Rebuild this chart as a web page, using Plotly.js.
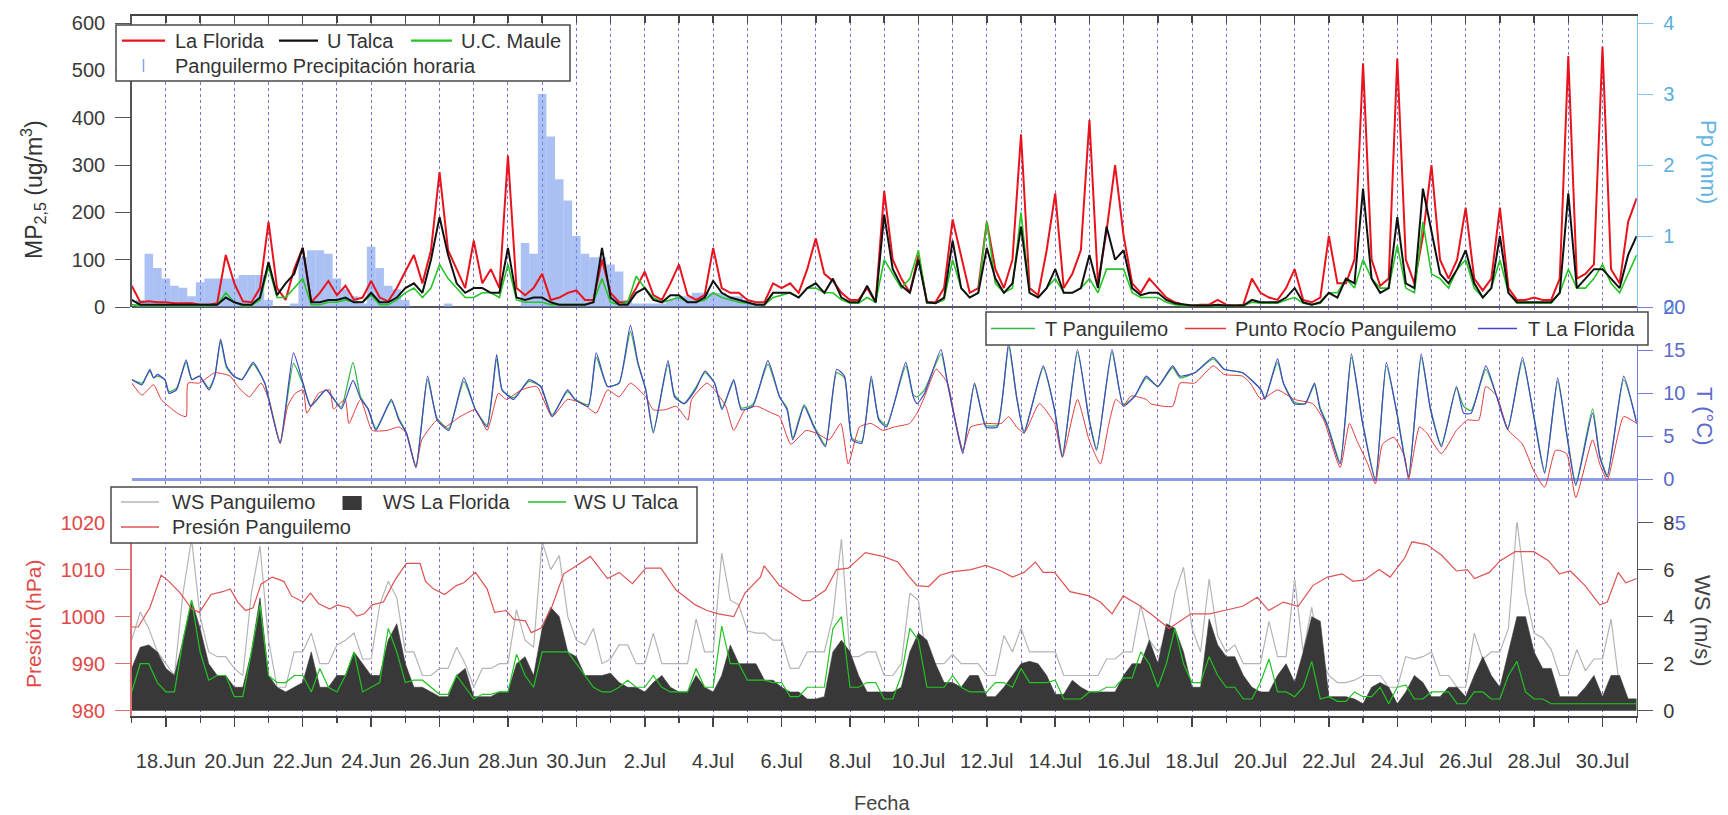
<!DOCTYPE html>
<html><head><meta charset="utf-8">
<script src="https://cdn.plot.ly/plotly-3.0.1.min.js"></script>
<style>html,body{margin:0;padding:0;background:#fff}#chart{width:1728px;height:815px}</style>
</head><body><div id="chart"></div>
<script>
// ---------- DATA ----------
// Regular series: one value every 6 h starting 17 Jun 00:00 (00,06,12,18 h per day)
const STEP_H = 6;
const pmLaFlorida = [45,10,12,10, 10,8,8,8, 5,5,8,110, 50,12,10,40, 180,40,15,80, 125,10,30,55, 25,45,15,20, 55,20,12,40, 75,110,50,120, 285,120,80,40,
 140,50,80,40, 320,40,25,40, 70,15,20,30, 35,15,15,100, 30,10,10,40, 75,25,15,50, 90,25,15,25, 125,40,30,30, 15,10,10,50, 40,50,30,80,
 145,70,55,30, 15,15,40,10, 245,100,60,30, 110,10,10,40, 185,110,30,40, 180,80,40,100, 365,40,25,120, 240,40,70,120, 395,50,160,300, 150,50,30,60,
 40,20,10,5, 3,5,5,15, 5,3,5,60, 30,20,15,40, 80,15,10,20, 150,50,50,100, 515,100,45,60, 525,100,50,150, 300,100,60,100, 210,60,35,60,
 210,40,15,15, 20,15,15,60, 530,60,70,90, 550,80,50,180, 230];
const pmUTalca = [15,5,5,5, 5,5,5,5, 5,5,5,20, 10,5,5,20, 95,25,50,70, 125,10,10,15, 15,20,10,10, 30,10,10,20, 40,50,30,100, 190,110,50,30,
 40,40,30,30, 125,20,15,20, 20,10,5,5, 5,5,10,125, 20,5,5,30, 40,15,10,25, 25,10,10,20, 55,30,20,15, 10,5,5,30, 30,30,20,40,
 50,30,60,20, 10,10,45,10, 195,80,45,30, 100,10,8,20, 140,40,20,30, 125,60,30,50, 170,30,20,40, 80,30,30,40, 110,40,170,100, 120,40,25,30,
 30,15,8,5, 3,3,3,5, 3,3,3,15, 10,10,10,20, 40,10,5,10, 30,20,60,50, 250,60,30,40, 190,50,40,250, 160,70,50,80, 120,50,20,40,
 150,30,10,10, 10,10,10,30, 240,40,60,80, 80,60,40,110, 150];
const pmUCMaule = [5,3,3,3, 3,3,3,3, 3,3,5,30, 10,3,3,15, 85,20,20,40, 60,5,5,10, 10,15,10,10, 25,5,5,15, 30,40,20,40, 90,60,40,20,
 20,30,30,20, 90,15,10,10, 10,5,5,5, 5,5,10,60, 10,5,10,65, 40,20,10,15, 20,10,10,15, 30,20,15,10, 8,5,5,20, 25,30,20,40,
 40,30,30,15, 8,8,20,10, 100,70,40,60, 120,8,8,15, 100,40,20,30, 180,50,30,40, 200,30,20,40, 60,30,30,40, 60,30,80,80, 80,30,20,20,
 20,10,5,3, 3,3,3,3, 3,3,3,10, 8,8,8,15, 20,8,5,8, 30,30,60,40, 100,60,40,40, 130,40,30,180, 70,60,40,80, 100,40,20,40,
 100,30,8,8, 8,8,8,30, 80,40,40,60, 90,50,30,70, 110];
const ppPanguilemo = [0,0.1,0.75,0.55, 0.4,0.3,0.27,0.15, 0.35,0.4,0.4,0.4, 0.4,0.45,0.45,0.45, 0.1,0,0,0.05, 0.7,0.8,0.8,0.75, 0.4,0.25,0.15,0.05,
 0.85,0.55,0.3,0.25, 0.1,0,0,0, 0,0.05,0,0, 0,0,0,0, 0,0,0.9,0.75, 3.0,2.4,1.8,1.5, 1.0,0.75,0.7,0.7, 0.6,0.5,0.1,0.05,
 0.05,0.05,0.05,0.1, 0.15,0.15,0.2,0.2, 0.2,0.2,0.15,0.15, 0.1,0.05,0,0,
 0,0,0,0, 0,0,0,0, 0,0,0,0, 0,0,0,0, 0,0,0,0, 0,0,0,0, 0,0,0,0, 0,0,0,0, 0,0,0,0, 0,0,0,0,
 0,0,0,0, 0,0,0,0, 0,0,0,0, 0,0,0,0, 0,0,0,0, 0,0,0,0, 0,0,0,0, 0,0,0,0, 0,0,0,0, 0,0,0,0,
 0,0,0,0, 0,0,0,0, 0,0,0,0, 0,0,0,0, 0,0,0,0, 0];
const wsLaFlorida = [1.8,2.7,2.8,2.5, 1.8,1.5,3.0,4.7, 3.5,2.0,1.5,1.5, 1.0,1.0,2.5,4.8, 1.5,1.0,0.8,1.0, 1.2,2.5,1.0,1.0, 1.5,1.5,2.5,2.0,
 1.5,1.5,3.0,3.7, 2.0,1.0,1.0,0.8, 0.6,0.6,1.5,1.8, 0.6,0.6,0.6,0.8, 0.8,2.0,2.3,1.5, 3.5,4.4,4.0,2.5, 2.3,1.5,1.5,1.5,
 1.6,1.2,1.0,1.0, 0.8,1.2,1.5,1.0, 0.8,0.8,1.5,1.0, 0.8,1.5,2.8,2.0, 2.0,2.0,1.3,1.3, 1.0,0.8,0.8,0.5, 0.5,0.6,2.5,3.0,
 2.5,1.5,0.8,0.8, 0.8,0.8,1.0,2.5, 3.3,3.0,2.0,1.2, 1.2,1.0,1.5,1.5, 0.6,0.6,1.0,1.5, 2.0,2.1,2.0,1.5, 0.7,0.7,1.3,1.0,
 0.8,0.8,0.8,0.8, 1.5,2.0,2.0,3.0, 2.0,3.7,3.5,2.5, 1.0,1.0,3.9,2.8, 2.3,2.3,1.5,1.0, 0.8,0.8,1.5,2.0, 1.2,2.5,4.0,3.8,
 0.6,0.6,0.6,0.5, 0.3,1.0,1.2,1.0, 0.3,0.8,1.5,1.2, 0.6,0.6,1.0,1.0, 0.6,1.5,2.3,1.5, 1.0,2.5,4.0,4.0, 2.5,1.8,1.8,0.6,
 0.6,0.6,1.0,1.5, 0.6,1.5,1.5,0.5, 0.5];
const wsPanguilemo = [3.0,4.2,3.5,2.5, 2.0,1.5,5.0,7.3, 4.0,2.5,2.3,2.3, 1.8,1.5,5.0,7.0, 3.0,1.0,1.0,2.5, 2.5,3.3,2.0,2.0, 2.8,3.0,3.3,2.2,
 2.2,4.5,5.5,4.8, 2.5,2.5,1.5,1.5, 1.8,1.8,2.7,2.0, 1.0,1.8,1.8,2.0, 2.0,4.3,3.0,2.7, 7.2,6.0,6.6,4.0, 3.0,2.8,3.5,2.0,
 2.2,2.8,2.8,2.0, 2.0,3.3,2.0,2.0, 2.0,2.0,3.9,2.5, 2.5,6.7,4.7,4.5, 3.4,3.3,3.3,3.0, 3.0,1.8,1.8,2.5, 2.5,2.5,4.0,7.3,
 2.3,2.3,2.5,2.5, 1.5,1.5,2.0,5.0, 4.7,2.0,2.0,2.0, 2.4,2.0,2.0,2.0, 1.5,1.5,3.2,2.5, 3.5,2.5,2.5,2.5, 2.5,1.5,1.5,1.5,
 1.5,1.5,2.2,2.2, 2.5,2.5,4.5,3.0, 2.5,3.0,5.0,6.1, 3.5,2.5,5.6,3.2, 2.5,2.8,2.0,2.0, 2.0,3.8,2.3,2.3, 5.6,2.5,4.4,2.3,
 1.5,1.2,1.2,1.3, 1.5,1.5,1.5,1.0, 1.0,2.3,2.2,2.3, 2.5,1.5,1.5,1.0, 1.0,3.3,2.2,2.5, 2.5,3.5,8.1,5.0, 3.3,3.1,2.6,1.5,
 1.5,2.6,1.7,2.2, 2.2,3.9,1.0,0.5, 0.5];
const wsUTalca = [0.8,2.0,2.0,1.2, 0.8,0.8,3.0,4.7, 2.5,1.3,1.5,1.5, 0.6,0.6,2.5,4.5, 1.5,1.2,1.2,1.5, 1.5,0.8,1.8,1.0, 0.8,1.5,2.5,0.8,
 1.0,1.2,3.5,2.5, 1.2,1.3,1.3,1.0, 0.7,0.7,1.5,1.0, 0.5,0.7,0.7,0.8, 0.8,2.4,1.5,1.0, 2.5,2.5,2.5,2.5, 2.0,1.5,1.0,0.8,
 0.8,1.0,1.3,1.0, 1.0,1.5,1.0,0.8, 0.8,0.8,1.8,1.0, 1.0,3.6,2.0,2.0, 1.3,1.3,1.3,1.2, 1.2,0.6,0.6,1.0, 1.0,1.0,3.5,4.0,
 1.0,1.0,1.2,1.2, 0.5,0.5,1.5,3.5, 3.0,1.0,1.0,1.0, 1.5,1.0,0.8,0.8, 0.8,1.2,1.2,1.0, 1.8,1.2,1.2,1.2, 1.3,0.5,0.5,0.5,
 0.8,0.8,1.0,1.0, 1.4,1.4,2.5,2.0, 1.0,2.0,3.5,2.0, 1.2,1.2,2.3,1.5, 1.0,1.0,0.5,0.5, 1.2,2.2,0.8,0.8, 0.6,1.0,2.1,0.5,
 0.6,0.4,0.4,0.8, 0.6,0.6,1.0,0.3, 1.0,1.1,0.5,0.5, 0.8,0.8,0.8,0.3, 0.3,0.8,0.8,0.5, 0.5,1.5,2.1,0.8, 0.5,0.5,0.3,0.3,
 0.3,0.3,0.3,0.3, 0.3,0.3,0.3,0.3, 0.3];

// Key-point series: time in days since 17 Jun 00:00
const tDays = [0.00,0.30,0.53,0.64,0.75,0.97,1.09,1.31,1.59,1.76, 1.98,2.26,2.43,2.60,2.77,2.99,3.22,3.55,3.89,4.00,
 4.34,4.73,5.01,5.23,5.68,5.90,6.13,6.47,6.69,6.91, 7.14,7.59,7.81,8.03,8.31,8.65,8.93,9.27,9.71,10.05,
 10.39,10.67,10.83,11.17,11.62,11.96,12.29,12.74,12.96,13.35, 13.58,13.91,14.25,14.58,14.80,15.03,15.25,15.68,15.87,16.15,
 16.48,16.76,17.04,17.26,17.60,17.82,18.16,18.60,18.94,19.16, 19.33,19.66,19.94,20.28,20.61,20.84,21.06,21.34,21.62,21.84,
 22.07,22.63,22.85,22.96,23.18,23.66,23.85,24.19,24.30,24.64, 24.97,25.31,25.64,25.87,26.09,26.65,26.98,27.21,27.65,27.99,
 28.21,28.66,28.99,29.33,29.66,30.00,30.43,30.65,31.08,31.62, 31.94,32.48,33.02,33.13,33.50,33.67,33.99,34.31,34.58,34.74,
 34.96,35.33,35.66,35.98,36.36,36.68,37.00,37.33,37.70,37.97, 38.29,38.73,38.94,39.16,39.59,39.91,40.23,40.66,40.99,41.31,
 41.69,41.95,42.22,42.71,42.92,43.14,43.62,44.00];
const tLaFlorida = [11.6,11.0,12.8,11.8,12.2,11.6,10.0,10.4,13.9,11.6, 12.0,10.4,12.0,16.3,13.2,12.0,11.6,13.6,11.2,9.4,
 4.2,14.7,11.2,8.5,10.4,9.4,8.2,11.5,9.4,8.2, 5.7,9.3,6.9,5.4,1.4,12.0,6.9,5.7,11.8,8.1,
 6.1,14.5,10.4,9.3,11.6,10.8,7.3,10.4,9.3,8.5, 14.7,10.8,11.2,17.9,13.6,10.4,5.4,13.8,9.6,8.8,
 10.4,12.6,11.2,8.1,11.6,8.1,8.5,13.8,9.6,8.1, 4.6,8.5,6.1,3.8,12.8,12.0,4.6,4.2,12.0,6.9,
 6.1,13.6,9.6,8.8,10.0,15.1,11.2,4.6,3.0,11.2, 6.1,6.1,15.9,9.6,5.4,13.2,8.1,2.6,15.1,6.9,
 3.4,15.1,8.5,9.7,12.0,10.8,13.2,12.0,12.4,14.2, 12.8,12.4,10.4,9.3,14.0,11.2,8.8,8.8,11.2,8.2,
 6.2,1.8,14.6,6.6,-0.1,13.6,7.4,0.3,14.6,8.1, 3.8,10.8,7.7,7.7,13.2,9.6,5.8,14.2,7.3,0.7,
 11.8,5.3,-0.7,7.7,2.6,0.3,12.0,6.5];
const tPanguilemo = [11.6,11.2,12.6,11.8,12.0,11.6,10.2,10.6,13.6,11.6, 12.0,10.6,12.0,16.0,13.0,12.0,11.6,13.4,11.2,9.6,
 4.4,13.5,11.0,8.6,10.4,9.4,8.4,13.6,9.6,8.2, 5.9,9.1,7.1,5.4,1.6,11.6,7.1,5.9,11.4,8.1,
 6.3,14.0,10.4,9.5,11.4,10.8,7.5,10.2,9.3,8.7, 14.2,10.8,11.2,17.2,13.4,10.4,5.6,13.4,9.8,8.8,
 10.6,12.4,11.2,8.3,11.4,8.3,8.7,13.4,9.6,8.3, 4.8,8.7,6.3,4.0,12.4,11.8,4.8,4.4,11.6,7.1,
 6.3,13.2,9.8,9.6,10.4,14.6,11.2,4.8,3.2,11.0, 6.3,6.3,15.4,9.6,5.6,13.0,8.1,2.8,14.8,7.1,
 3.6,14.8,8.7,9.7,11.8,10.8,13.0,11.8,12.4,14.0, 12.8,12.4,10.4,9.5,13.6,11.2,9.0,8.8,11.0,8.4,
 6.4,2.0,14.2,6.8,0.1,13.2,7.6,0.5,14.2,8.3, 4.0,10.6,8.5,8.0,12.8,9.6,6.0,13.8,7.5,0.9,
 11.4,5.5,-0.5,8.2,2.8,0.5,11.6,6.7];
const dpDays = [0.00,0.30,0.64,0.86,1.20,1.42,1.59,1.65,1.98,2.43, 2.88,3.10,3.44,3.78,4.00,4.34,4.56,4.78,5.01,5.12,
 5.46,5.79,5.90,6.24,6.35,6.69,7.03,7.47,7.81,8.03, 8.31,8.48,8.93,9.15,9.60,10.05,10.39,10.72,10.95,11.39,
 11.84,12.29,12.74,13.19,13.58,13.91,14.25,14.58,15.03,15.25, 15.59,15.92,16.26,16.37,16.82,17.04,17.37,17.60,17.93,18.27,
 18.72,18.94,19.27,19.72,20.06,20.39,20.73,20.95,21.28,21.62, 21.96,22.29,22.74,22.96,23.18,23.52,23.85,24.08,24.30,24.53,
 24.97,25.42,25.64,25.87,26.09,26.54,26.98,27.21,27.65,27.99, 28.32,28.55,28.77,28.99,29.22,29.66,29.79,30.43,30.65,31.08,
 31.62,31.94,32.48,32.70,33.02,33.50,33.99,34.53,34.85,35.33, 35.60,35.81,36.14,36.36,36.57,36.90,37.22,37.33,37.65,37.86,
 38.29,38.73,39.05,39.38,39.59,39.91,40.23,40.66,40.99,41.31, 41.63,41.95,42.22,42.71,42.92,43.14,43.62,44.00];
const dpPanguilemo = [11.2,9.8,11.0,9.3,8.1,7.5,7.3,11.2,11.2,12.4, 12.0,10.8,9.6,11.2,9.4,4.2,8.5,10.0,10.4,7.7,
 10.0,10.4,8.2,9.3,6.5,9.3,5.7,5.7,6.1,5.4, 1.4,4.6,6.9,6.1,7.3,8.1,5.7,10.0,9.3,10.4,
 10.8,7.3,9.3,8.8,7.7,10.4,9.6,11.2,9.6,8.1, 8.1,8.5,6.9,9.3,11.2,10.4,8.5,5.7,8.1,8.5,
 7.7,7.3,4.1,5.7,5.3,4.6,6.5,1.8,6.1,6.5, 5.7,6.1,6.5,7.7,9.6,12.8,11.2,6.9,3.4,6.1,
 6.5,6.5,7.3,6.1,5.4,8.8,6.5,2.6,9.3,4.6, 1.8,6.1,9.3,8.6,9.7,9.3,8.8,8.5,11.2,11.2,
 13.2,12.2,12.0,11.2,9.3,10.4,9.3,8.8,6.9,1.4, 6.5,4.6,1.8,-0.5,4.1,4.9,2.6,0.0,6.1,5.4,
 3.0,5.7,6.9,6.9,10.8,9.7,5.8,4.1,1.0,-0.9, 3.4,3.0,-2.1,4.6,1.8,-0.1,7.3,6.5];
const pDays = [0.00,0.19,0.53,0.86,1.09,1.42,1.76,1.98,2.32,2.66, 2.88,3.10,3.33,3.55,3.78,4.11,4.45,4.67,5.01,5.23,
 5.46,5.79,6.02,6.35,6.58,6.80,7.03,7.36,7.70,8.03, 8.43,8.59,8.82,9.15,9.49,9.71,10.05,10.39,10.61,10.95,
 11.17,11.51,11.68,11.96,12.29,12.63,12.96,13.41,13.91,14.25, 14.64,15.03,15.47,15.92,16.48,16.82,17.15,17.60,17.93,18.38,
 18.49,18.94,19.27,19.61,19.83,20.28,20.61,20.95,21.45,21.96, 22.40,22.74,22.96,23.30,23.63,23.97,24.53,24.97,25.42,25.75,
 26.09,26.42,26.65,26.98,27.43,27.99,28.32,28.66,28.99,29.44, 29.79,30.33,30.97,31.51,31.94,32.48,32.91,33.24,33.67,34.10,
 34.53,34.96,35.39,35.71,36.04,36.47,36.79,37.22,37.43,37.86, 38.29,38.73,39.05,39.26,39.69,40.01,40.45,40.99,41.42,41.74,
 42.06,42.49,42.92,43.14,43.46,43.68,44.00];
const pPanguilemo = [997.8,997.8,1001.9,1008.8,1007.5,1005.0,1001.6,1000.9,1004.7,1005.3, 1005.9,1003.1,1001.3,1001.9,1006.9,1008.4,1007.5,1004.4,1003.1,1005.0,
 1002.8,1001.6,1002.5,1001.9,1000.1,1000.6,1002.5,1003.1,1007.8,1011.3, 1011.3,1007.5,1005.9,1004.7,1006.6,1007.2,1009.4,1005.9,1000.9,1001.3,
 999.4,999.1,996.6,997.5,1002.2,1009.1,1010.6,1012.8,1008.1,1009.4, 1007.0,1010.3,1010.3,1005.6,1002.5,1001.3,1000.6,1000.0,1005.0,1008.4,
 1010.8,1006.6,1005.0,1003.4,1003.4,1005.6,1010.0,1010.3,1013.6,1012.8, 1011.6,1008.4,1006.6,1006.4,1008.8,1009.5,1010.0,1010.9,1009.7,1008.4,
 1009.4,1011.6,1009.4,1009.4,1005.3,1004.4,1003.1,1000.6,1004.4,1002.5, 1000.6,997.5,1000.6,1000.6,1001.3,1002.2,1004.1,1001.3,1003.1,1002.2,
 1006.6,1008.4,1009.1,1007.5,1007.8,1010.0,1008.4,1012.5,1015.9,1015.3, 1013.1,1009.7,1010.0,1008.1,1009.4,1011.9,1013.8,1013.8,1011.9,1009.1,
 1009.7,1006.6,1002.5,1003.1,1009.4,1007.2,1008.1];

// ---------- helpers ----------
const T0 = Date.UTC(2019, 5, 17);
const isoAt = h => new Date(T0 + h * 3600000).toISOString().slice(0, 19).replace('T', ' ');
const gridX = arr => arr.map((_, i) => isoAt(i * STEP_H));
const dayX = arr => arr.map(d => isoAt(d * 24));
const W = 1728, H = 815;
const fx = p => p / W, fy = p => 1 - p / H;
const FONT = 'Liberation Sans, Arial, sans-serif';
const XR = [isoAt(0), isoAt(44 * 24)];
const DAY = 86400000;
const GRID = 'rgba(70,70,205,0.75)';

const traces = [
  {type:'bar', name:'Panguilermo Precipitación horaria', x:gridX(ppPanguilemo), y:ppPanguilemo, xaxis:'x', yaxis:'y',
   width:STEP_H*3600000, marker:{color:'rgba(110,148,234,0.58)', line:{width:0}}, hoverinfo:'skip'},
  {type:'scatter', mode:'lines', name:'La Florida', x:gridX(pmLaFlorida), y:pmLaFlorida, xaxis:'x', yaxis:'y2', line:{color:'#e8131c', width:2}},
  {type:'scatter', mode:'lines', name:'U.C. Maule', x:gridX(pmUCMaule), y:pmUCMaule, xaxis:'x', yaxis:'y2', line:{color:'#27c627', width:1.6}},
  {type:'scatter', mode:'lines', name:'U Talca', x:gridX(pmUTalca), y:pmUTalca, xaxis:'x', yaxis:'y2', line:{color:'#111111', width:2}},
  {type:'scatter', mode:'lines', x:[XR[0]], y:[null], xaxis:'x2', yaxis:'y', showlegend:false, hoverinfo:'skip'},
  {type:'scatter', mode:'lines', name:'T Panguilemo', x:dayX(tDays), y:tPanguilemo, xaxis:'x', yaxis:'y3', line:{color:'#35b84a', width:1.3, shape:'spline', smoothing:0.5}},
  {type:'scatter', mode:'lines', name:'Punto Rocío Panguilemo', x:dayX(dpDays), y:dpPanguilemo, xaxis:'x', yaxis:'y3', line:{color:'#e23a3a', width:1, shape:'spline', smoothing:0.5}},
  {type:'scatter', mode:'lines', name:'T La Florida', x:dayX(tDays), y:tLaFlorida, xaxis:'x', yaxis:'y3', line:{color:'#4646cc', width:1.2, shape:'spline', smoothing:0.5}},
  {type:'scatter', mode:'lines', name:'WS Panguilemo', x:gridX(wsPanguilemo), y:wsPanguilemo, xaxis:'x', yaxis:'y4', line:{color:'#b5b5b5', width:1.2}},
  {type:'scatter', mode:'lines', name:'WS La Florida', x:gridX(wsLaFlorida), y:wsLaFlorida, xaxis:'x', yaxis:'y4', fill:'tozeroy',
   fillcolor:'#383838', line:{color:'#383838', width:0.6}},
  {type:'scatter', mode:'lines', name:'WS U Talca', x:gridX(wsUTalca), y:wsUTalca, xaxis:'x', yaxis:'y4', line:{color:'#22c322', width:1.2}},
  {type:'scatter', mode:'lines', name:'Presión Panguilemo', x:dayX(pDays), y:pPanguilemo, xaxis:'x', yaxis:'y5', line:{color:'#e05252', width:1.2}}
];
traces.forEach(t => { t.showlegend = false; });

const xd = [fx(131.7), fx(1636.7)];
const dTop = [fy(307.3), fy(16)], dMid = [fy(522.5), fy(307.3)], dBot = [fy(715.5), fy(522.5)];
const tickF = c => ({family:FONT, size:20, color:c});

const layout = {
  width:W, height:H, margin:{l:0, r:0, t:0, b:0, pad:0, autoexpand:false},
  paper_bgcolor:'#ffffff', plot_bgcolor:'rgba(0,0,0,0)', showlegend:false, font:{family:FONT, color:'#333'},
  xaxis:{type:'date', domain:xd, range:XR, anchor:'y4', showline:true, linecolor:'#444', linewidth:2,
    ticks:'outside', ticklen:9, tickwidth:1.5, tickcolor:'#444', tick0:'2019-06-18', dtick:2*DAY, tickformat:'%-d.%b',
    tickfont:tickF('#3a3a3a'), ticklabelstandoff:17, zeroline:false,
    showgrid:true, gridcolor:GRID, griddash:'dot', gridwidth:1,
    minor:{tick0:'2019-06-17', dtick:DAY, ticks:'outside', ticklen:5, tickwidth:1.2, tickcolor:'#444',
      showgrid:true, gridcolor:GRID, griddash:'dot', gridwidth:1}},
  xaxis2:{type:'date', overlaying:'x', anchor:'y', side:'top', range:XR, showline:true, linecolor:'#444', linewidth:2,
    ticks:'inside', ticklen:7, tickwidth:1.5, tickcolor:'#444', tick0:'2019-06-17', dtick:DAY, showticklabels:false,
    showgrid:false, zeroline:false},
  yaxis:{domain:dTop, range:[-0.004, 4.099], side:'right', anchor:'x', showline:true, linecolor:'#86c4ea', linewidth:1.5,
    ticks:'outside', ticklen:15, tickcolor:'#86c4ea', tickvals:[0,1,2,3,4], tickfont:tickF('#5aaedc'), ticklabelstandoff:6,
    showgrid:false, zeroline:true, zerolinecolor:'#555', zerolinewidth:2},
  yaxis2:{overlaying:'y', side:'left', anchor:'x', range:[-0.6, 614.8], showline:true, linecolor:'#555', linewidth:1.5,
    ticks:'outside', ticklen:15, tickcolor:'#555', tickvals:[0,100,200,300,400,500,600], tickfont:tickF('#3a3a3a'),
    ticklabelstandoff:6, showgrid:false, zeroline:false},
  yaxis3:{domain:dMid, range:[-5, 20], side:'right', anchor:'x', showline:true, linecolor:'#7380d8', linewidth:1.5,
    ticks:'outside', ticklen:15, tickcolor:'#7380d8', tickvals:[-5,0,5,10,15,20], tickfont:tickF('#5b6acd'), ticklabelstandoff:6,
    showgrid:false, zeroline:true, zerolinecolor:'#8e9be6', zerolinewidth:2.5},
  yaxis4:{domain:dBot, range:[-0.2, 8], side:'right', anchor:'x', showline:true, linecolor:'#555', linewidth:1.5,
    ticks:'outside', ticklen:15, tickcolor:'#555', tickvals:[0,2,4,6,8], tickfont:tickF('#3a3a3a'), ticklabelstandoff:6,
    showgrid:false, zeroline:false},
  yaxis5:{overlaying:'y4', side:'left', anchor:'x', range:[979.0, 1020], showline:true, linecolor:'#e07070', linewidth:1.5,
    ticks:'outside', ticklen:15, tickcolor:'#e07070', tickvals:[980,990,1000,1010,1020], tickfont:tickF('#e04848'),
    ticklabelstandoff:6, showgrid:false, zeroline:false},
  shapes:[], annotations:[]
};

// ---------- legends (drawn as boxes + samples + text) ----------
const S = layout.shapes, A = layout.annotations;
function box(x0, y0, x1, y1){ S.push({type:'rect', xref:'paper', yref:'paper', x0:fx(x0), x1:fx(x1), y0:fy(y1), y1:fy(y0),
  fillcolor:'#ffffff', line:{color:'#4a4a4a', width:1.5}, layer:'above'}); }
function seg(x0, x1, y, color, w){ S.push({type:'line', xref:'paper', yref:'paper', x0:fx(x0), x1:fx(x1), y0:fy(y), y1:fy(y),
  line:{color:color, width:w}, layer:'above'}); }
function txt(x, y, s, opt){ A.push(Object.assign({xref:'paper', yref:'paper', x:fx(x), y:fy(y), text:s, showarrow:false,
  xanchor:'left', yanchor:'middle', font:{family:FONT, size:20, color:'#333'}}, opt || {})); }

box(116, 25, 570, 81);
seg(122, 165, 40.7, '#e8131c', 2.2); txt(173, 40.7, 'La Florida');
seg(279, 318, 40.7, '#111111', 2.2); txt(325, 40.7, 'U Talca');
seg(411, 452, 40.7, '#27c627', 2.2); txt(459, 40.7, 'U.C. Maule');
S.push({type:'line', xref:'paper', yref:'paper', x0:fx(143.5), x1:fx(143.5), y0:fy(72), y1:fy(59), line:{color:'rgba(100,140,232,0.8)', width:1.5}, layer:'above'});
txt(173, 66, 'Panguilermo Precipitación horaria');

box(986, 312, 1648, 345);
seg(991, 1035, 328.5, '#35b84a', 1.5); txt(1043, 328.5, 'T Panguilemo');
seg(1185, 1226, 328.5, '#e23a3a', 1.5); txt(1233, 328.5, 'Punto Rocío Panguilemo');
seg(1478, 1517, 328.5, '#4646cc', 1.5); txt(1526, 328.5, 'T La Florida');

box(111, 487, 697, 543);
seg(121, 159, 502, '#b5b5b5', 1.5); txt(170, 502, 'WS Panguilemo');
S.push({type:'rect', xref:'paper', yref:'paper', x0:fx(342.5), x1:fx(361.7), y0:fy(510), y1:fy(496), fillcolor:'#383838', line:{width:0}, layer:'above'});
txt(381, 502, 'WS La Florida');
seg(528, 566, 502, '#22c322', 1.5); txt(572, 502, 'WS U Talca');
seg(121, 159, 527, '#e05252', 1.5); txt(170, 527, 'Presión Panguilemo');

// ---------- axis titles ----------
const ttl = (x, y, s, color, ang, size) => A.push({xref:'paper', yref:'paper', x:fx(x), y:fy(y), text:s, showarrow:false,
  xanchor:'center', yanchor:'middle', textangle:ang, font:{family:FONT, size:size, color:color}});
ttl(33, 190, 'MP<sub>2,5</sub> (ug/m<sup>3</sup>)', '#333', -90, 23);
ttl(1708, 162, 'Pp (mm)', '#62b4e0', 90, 22);
ttl(1705, 416, 'T (°C)', '#5b6acd', 90, 22);
ttl(33, 624, 'Presión (hPa)', '#e04848', -90, 21);
ttl(1703, 621, 'WS (m/s)', '#444', 90, 22);
ttl(882, 803, 'Fecha', '#444', 0, 20);

Plotly.newPlot('chart', traces, layout, {staticPlot:true, displayModeBar:false});
</script></body></html>
